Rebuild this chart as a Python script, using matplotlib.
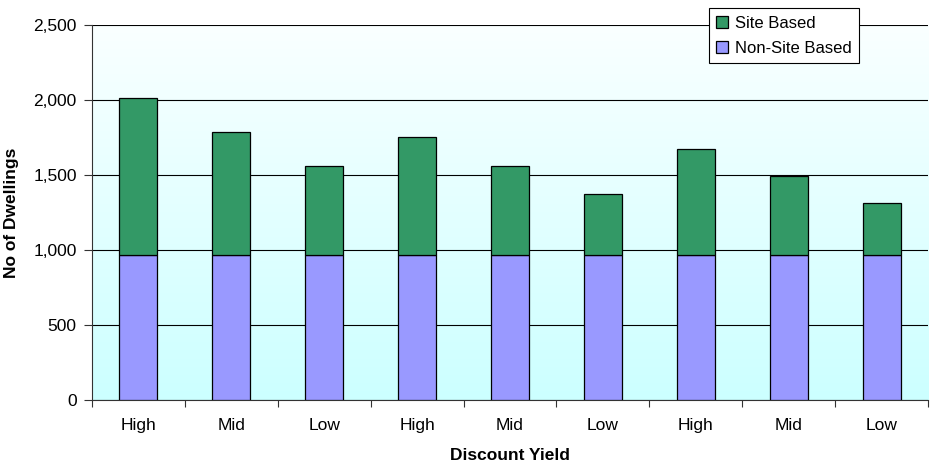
import numpy as np
import matplotlib.pyplot as plt
from matplotlib.colors import LinearSegmentedColormap

plt.rcParams['font.family'] = ['Liberation Sans', 'DejaVu Sans']

# Discount yield scenarios
categories = ["High", "Mid", "Low", "High", "Mid", "Low", "High", "Mid", "Low"]
non_site = [965, 965, 965, 965, 965, 965, 965, 965, 965]
site = [1045, 820, 595, 790, 595, 405, 710, 530, 350]

fig = plt.figure(figsize=(9.3, 4.68), dpi=100)
ax = fig.add_axes([92 / 930, 1 - 400 / 468, 836 / 930, 375 / 468])

# soft white-to-cyan background
grad = np.linspace(0, 1, 256).reshape(-1, 1)
cmap = LinearSegmentedColormap.from_list("bg", ["#CCFFFF", "#FAFFFF"])
ax.imshow(grad, aspect="auto", cmap=cmap, origin="lower",
          extent=[0, 1, 0, 1], transform=ax.transAxes, zorder=0)

x = np.arange(len(categories))
ax.bar(x, non_site, width=0.41, color="#9999FF", edgecolor="black",
       linewidth=0.9, label="Non-Site Based", zorder=3)
ax.bar(x, site, width=0.41, bottom=non_site, color="#339966",
       edgecolor="black", linewidth=0.9, label="Site Based", zorder=3)

ax.set_xlim(-0.5, len(categories) - 0.5)
ax.set_ylim(0, 2500)
ax.set_yticks(np.arange(0, 2501, 500))
ax.set_yticklabels([f"{v:,}" for v in range(0, 2501, 500)])
ax.yaxis.grid(True, color="black", linewidth=0.8, zorder=1)
ax.set_axisbelow(True)

# tick marks between groups, labels centred under bars
ax.set_xticks(np.arange(-0.5, len(categories), 1))
ax.set_xticklabels([])
ax.set_xticks(x, minor=True)
ax.set_xticklabels(categories, minor=True)
ax.tick_params(axis="x", which="minor", length=0, pad=13, labelsize=12.5)
ax.tick_params(axis="x", which="major", length=5, direction="out", color="#333333")
ax.tick_params(axis="y", length=6, labelsize=12.5, color="#333333", pad=5)

for side in ["top", "right"]:
    ax.spines[side].set_visible(False)
ax.spines["left"].set_color("#333333")
ax.spines["bottom"].set_color("#333333")

ax.set_xlabel("Discount Yield", fontsize=12.5, fontweight="bold", labelpad=11)
ax.set_ylabel("No of Dwellings", fontsize=12.5, fontweight="bold", labelpad=10)

handles, labels = ax.get_legend_handles_labels()
leg = ax.legend(handles[::-1], labels[::-1], loc="upper left",
                bbox_to_anchor=(0.738, 1.045), borderaxespad=0, fontsize=12,
                handlelength=0.7, handleheight=0.7, handletextpad=0.4,
                labelspacing=0.6, fancybox=False, framealpha=1,
                edgecolor="black", borderpad=0.45)
leg.get_frame().set_linewidth(0.8)
leg.set_zorder(5)

fig.savefig("out.png", dpi=100)
